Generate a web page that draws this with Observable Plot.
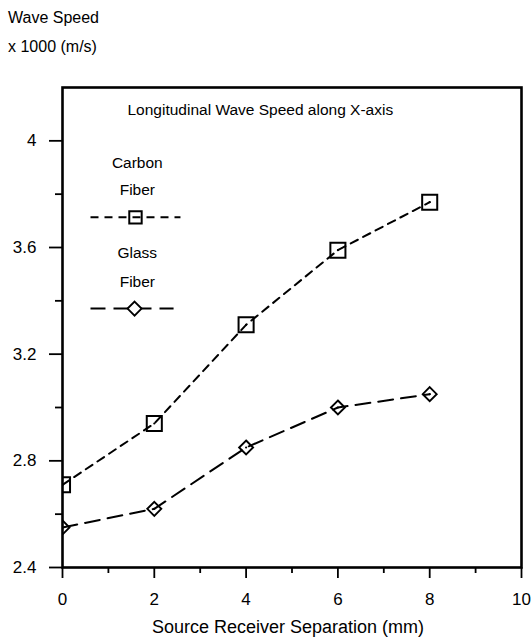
<!DOCTYPE html>
<html>
<head>
<meta charset="utf-8">
<script src="https://cdn.jsdelivr.net/npm/d3@7"></script>
<script src="https://cdn.jsdelivr.net/npm/@observablehq/plot@0.6"></script>
<style>
  html, body { margin: 0; padding: 0; background: #fff; }
  body { width: 532px; height: 641px; overflow: hidden; font-family: "Liberation Sans", Arial, sans-serif; color: #000; }
  #header { height: 62px; box-sizing: border-box; padding: 3px 0 0 8px; font-size: 16px; line-height: 29px; }
  svg { display: block; }
</style>
</head>
<body>
<div id="header"><div>Wave Speed</div><div>x 1000 (m/s)</div></div>
<div id="chart"></div>
<script>
// Data
const separation = [0, 2, 4, 6, 8];               // Source receiver separation (mm)
const carbonFiber = [2.71, 2.94, 3.31, 3.59, 3.77]; // wave speed x1000 m/s
const glassFiber  = [2.55, 2.62, 2.85, 3.00, 3.05];
const yMajorTicks = [2.4, 2.8, 3.2, 3.6, 4.0];
const yMinorTicks = [2.6, 3.0, 3.4, 3.8];
const xMajorTicks = [0, 2, 4, 6, 8, 10];
const xMinorTicks = [1, 3, 5, 7, 9];
const chartTitle = "Longitudinal Wave Speed along X-axis";
const xLabel = "Source Receiver Separation (mm)";
const legendCarbon = ["Carbon", "Fiber"];
const legendGlass = ["Glass", "Fiber"];

const carbon = separation.map((x, i) => ({x, y: carbonFiber[i]}));
const glass = separation.map((x, i) => ({x, y: glassFiber[i]}));

const carbonDash = "8,6";
const glassDash = "15,8";

const plot = Plot.plot({
  width: 532,
  height: 579,
  marginTop: 25,
  marginBottom: 74,
  marginLeft: 62,
  marginRight: 11,
  style: {fontFamily: "'Liberation Sans', Arial, sans-serif", color: "#000", background: "#fff"},
  x: {domain: [0, 10]},
  y: {domain: [2.4, 4.2]},
  marks: [
    // axes
    Plot.axisY({ticks: yMajorTicks, tickSize: 13, tickPadding: 13, fontSize: 17, strokeWidth: 1.8,
      tickFormat: d => String(+d.toFixed(1)), label: null}),
    Plot.axisY({ticks: yMinorTicks, tickSize: 7, strokeWidth: 1.8, tickFormat: () => "", label: null}),
    Plot.axisX({ticks: xMajorTicks, tickSize: 11, tickPadding: 14, fontSize: 17, strokeWidth: 1.8,
      tickFormat: d => String(d), label: null}),
    Plot.axisX({ticks: xMinorTicks, tickSize: 6, strokeWidth: 1.8, tickFormat: () => "", label: null}),
    Plot.text([xLabel], {frameAnchor: "bottom", dy: 60, dx: -4, fontSize: 18, lineAnchor: "middle"}),
    // title inside
    Plot.text([chartTitle], {x: 4.31, y: 4.114, fontSize: 15.5, lineAnchor: "middle"}),
    // data lines
    Plot.line(carbon, {x: "x", y: "y", stroke: "#000", strokeWidth: 2, strokeDasharray: carbonDash, clip: "frame"}),
    Plot.line(glass, {x: "x", y: "y", stroke: "#000", strokeWidth: 2, strokeDasharray: glassDash, clip: "frame"}),
    Plot.dot(carbon, {x: "x", y: "y", symbol: "square", r: 8.5, stroke: "#000", strokeWidth: 2, fill: "none", clip: "frame"}),
    Plot.dot(glass, {x: "x", y: "y", symbol: "diamond2", r: 6.3, stroke: "#000", strokeWidth: 1.9, fill: "none", clip: "frame"}),
    Plot.dot(carbon, {x: "x", y: "y", r: 1.1, fill: "#000", clip: "frame"}),
    Plot.dot(glass, {x: "x", y: "y", r: 1.1, fill: "#000", clip: "frame"}),
    // legend
    Plot.text(legendCarbon, {x: 1.63, y: (d, i) => [3.915, 3.814][i], fontSize: 15.5, lineAnchor: "middle"}),
    Plot.link([legendCarbon], {x1: 0.61, x2: 2.57, y1: 3.713, y2: 3.713, stroke: "#000", strokeWidth: 2, strokeDasharray: carbonDash}),
    Plot.dot([legendCarbon], {x: 1.59, y: 3.713, symbol: "square", r: 7, stroke: "#000", strokeWidth: 2, fill: "none"}),
    Plot.text(legendGlass, {x: 1.63, y: (d, i) => [3.578, 3.469][i], fontSize: 15.5, lineAnchor: "middle"}),
    Plot.link([legendGlass], {x1: 0.61, x2: 2.42, y1: 3.371, y2: 3.371, stroke: "#000", strokeWidth: 2, strokeDasharray: glassDash}),
    Plot.dot([legendGlass], {x: 1.57, y: 3.371, symbol: "diamond2", r: 6.3, stroke: "#000", strokeWidth: 1.9, fill: "white"}),
    // frame
    Plot.frame({stroke: "#000", strokeWidth: 2.6})
  ]
});
document.getElementById("chart").appendChild(plot);
</script>
</body>
</html>
